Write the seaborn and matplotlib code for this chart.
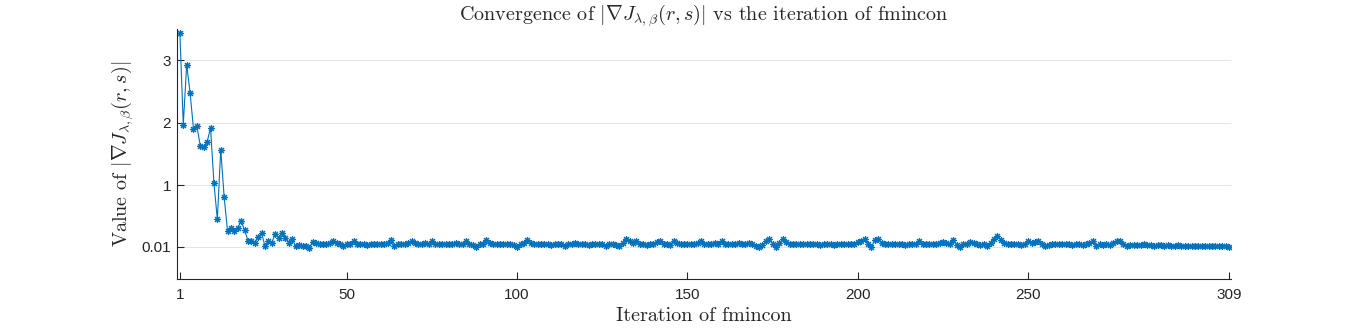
import numpy as np
import pandas as pd
import matplotlib
matplotlib.use('Agg')
import matplotlib.pyplot as plt
import seaborn as sns

# --- DATA ---
grad_norm = [
    3.44, 1.97, 2.93, 2.48, 1.90, 1.94, 1.63, 1.61, 1.69, 1.92,
    1.03, 0.45, 1.57, 0.81, 0.26, 0.32, 0.27, 0.32, 0.42, 0.28,
    0.11, 0.11, 0.08, 0.17, 0.23, 0.02, 0.10, 0.08, 0.22, 0.16,
    0.24, 0.16, 0.08, 0.13, 0.02, 0.04, 0.03, 0.03, 0.00, 0.09,
    0.08, 0.05,
    0.06, 0.05, 0.07, 0.10, 0.08, 0.06, 0.03, 0.06,
    0.05, 0.10, 0.06, 0.05, 0.06, 0.04, 0.06, 0.05, 0.06, 0.05,
    0.06, 0.07, 0.12, 0.02, 0.05, 0.06, 0.05, 0.07, 0.10, 0.07,
    0.06, 0.05, 0.07, 0.06, 0.10, 0.06, 0.05, 0.06, 0.05, 0.06,
    0.05, 0.07, 0.06, 0.05, 0.10, 0.06, 0.04, 0.01, 0.05, 0.06,
    0.12, 0.07, 0.06, 0.05, 0.06, 0.05, 0.06, 0.05, 0.04, 0.01,
    0.06, 0.08, 0.12, 0.07, 0.06, 0.05, 0.06, 0.05, 0.06, 0.04,
    0.06, 0.05, 0.06, 0.03, 0.06, 0.05, 0.07, 0.06, 0.05, 0.06,
    0.04, 0.06, 0.05, 0.06, 0.05, 0.03, 0.06, 0.05, 0.04, 0.03,
    0.07, 0.14, 0.10, 0.08, 0.11, 0.05, 0.06, 0.04, 0.06, 0.05,
    0.09, 0.11, 0.06, 0.05, 0.04, 0.11, 0.07, 0.05, 0.06, 0.05,
    0.06, 0.05, 0.08, 0.10, 0.05, 0.06, 0.05, 0.07, 0.06, 0.10,
    0.05, 0.06, 0.05, 0.06, 0.07, 0.05, 0.06, 0.07, 0.06, 0.03,
    0.01, 0.04, 0.10, 0.14, 0.06, 0.01, 0.07, 0.13, 0.09, 0.06,
    0.05, 0.06, 0.05, 0.06, 0.05, 0.06, 0.05, 0.06, 0.04, 0.06,
    0.05, 0.06, 0.04, 0.05, 0.06, 0.05, 0.06, 0.05, 0.06, 0.09,
    0.11, 0.14, 0.06, 0.01, 0.12, 0.13, 0.08, 0.06, 0.05, 0.06,
    0.05, 0.06, 0.05, 0.04, 0.06, 0.05, 0.06, 0.10, 0.05, 0.06,
    0.05, 0.06, 0.05, 0.07, 0.09, 0.08, 0.06, 0.12, 0.04, 0.01,
    0.05, 0.06, 0.09, 0.07, 0.06, 0.04, 0.05, 0.03, 0.08, 0.13,
    0.19, 0.12, 0.07, 0.06, 0.05, 0.06, 0.05, 0.04, 0.06, 0.10,
    0.07, 0.09, 0.10, 0.06, 0.03, 0.04, 0.05, 0.06, 0.05, 0.06,
    0.05, 0.06, 0.04, 0.05, 0.06, 0.04, 0.05, 0.07, 0.10, 0.02,
    0.05, 0.04, 0.05, 0.04, 0.07, 0.10, 0.11, 0.06, 0.03, 0.04,
    0.04, 0.04, 0.04, 0.05, 0.04, 0.04, 0.03, 0.04, 0.04, 0.03,
    0.04, 0.03, 0.03, 0.04, 0.03, 0.03, 0.03, 0.03, 0.03, 0.03,
    0.03, 0.03, 0.02, 0.03, 0.02, 0.03, 0.02, 0.02, 0.01,
]
iterations = list(range(1, len(grad_norm) + 1))

x_ticks = [1, 50, 100, 150, 200, 250, 309]
y_ticks = [0.01, 1, 2, 3]
y_tick_labels = ['0.01', '1', '2', '3']

df = pd.DataFrame({'iter': iterations, 'val': grad_norm})

# --- STYLING ---
sns.set_style('ticks')
plt.rcParams['font.family'] = 'Liberation Sans'
plt.rcParams['mathtext.fontset'] = 'cm'
plt.rcParams['axes.unicode_minus'] = False

fig = plt.figure(figsize=(13.6, 3.31), dpi=100)
ax = fig.add_axes([0.13, 0.158, 0.775, 0.754])

sns.lineplot(data=df, x='iter', y='val', ax=ax, color='#0072BD',
             linewidth=0.8, marker=(8, 2, 0), markersize=5,
             markeredgewidth=0.8, markeredgecolor='#0072BD')

ax.set_xlim(0.1, 309.5)
ax.set_ylim(-0.5, 3.5)
ax.set_xticks(x_ticks)
ax.set_yticks(y_ticks)
ax.set_yticklabels(y_tick_labels)
ax.tick_params(direction='in', length=5, width=0.8, colors='#262626',
               labelsize=11)
ax.tick_params(axis='x', pad=7)
ax.tick_params(axis='y', pad=4)
ax.grid(axis='y', color='#dfdfdf', linewidth=0.6)
ax.grid(axis='x', visible=False)
for side in ['top', 'right']:
    ax.spines[side].set_visible(False)
for side in ['left', 'bottom']:
    ax.spines[side].set_color('#262626')
    ax.spines[side].set_linewidth(0.8)

cm = 'cmr10'
lab_size = 14.5
ax.set_title(r'Convergence of $|\nabla J_{\lambda,\beta}(r,s)|$ vs the iteration of fmincon',
             fontfamily=cm, fontsize=lab_size, pad=4)
ax.set_xlabel('Iteration of fmincon', fontfamily=cm, fontsize=lab_size, labelpad=3)
ax.set_ylabel(r'Value of $|\nabla J_{\lambda,\beta}(r,s)|$', fontfamily=cm,
              fontsize=lab_size, labelpad=4)

fig.savefig('out.png', dpi=100)
